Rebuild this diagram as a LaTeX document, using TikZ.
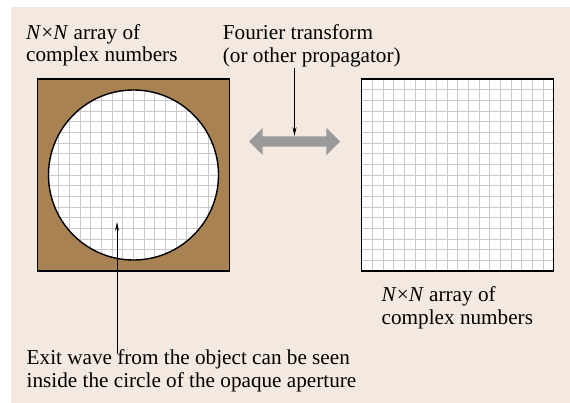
\documentclass[tikz,border=0pt]{standalone}
\usepackage{fontspec}
\setmainfont{Liberation Serif}
\usetikzlibrary{shapes.arrows, arrows.meta, calc}
\definecolor{paper}{HTML}{F3E9E0}
\definecolor{aperture}{HTML}{A98254}
\definecolor{gridgray}{HTML}{C9C9C9}
\definecolor{fatgray}{HTML}{9A9A9A}

\begin{document}
\begin{tikzpicture}[x=1pt, y=-1pt,
		panel/.style={rectangle, minimum size=192pt, inner sep=0pt, outer sep=0pt},
		hole/.style={circle, minimum size=170pt, inner sep=0pt, outer sep=0pt},
		frame/.style={line width=1.4pt},
		gridline/.style={gridgray, line width=0.9pt},
		note/.style={align=left, anchor=base west, inner sep=0pt,
			font=\fontsize{21.2}{22.8}\selectfont},
		pointer/.style={-{Stealth[length=9pt, width=4pt]}, line width=0.8pt},
		fat/.style={double arrow, fill=fatgray, minimum height=91pt,
			inner xsep=0pt, inner ysep=5pt, double arrow head extend=8.5pt}
		]
		\useasboundingbox (0,0) rectangle (570,403);
		\fill[paper] (11,7) rectangle (570,403);
		
		% object plane: opaque aperture with a round hole
		\node[panel, fill=aperture, draw, frame] (obj) at (133.5,175) {};
		\node[hole, fill=white] (pupil) at (obj.center) {};
		\begin{scope}
			\clip (pupil.center) circle[radius=85];
			\foreach \i in {1,...,17} {
				\draw[gridline] ($(obj.north west)!\i/18!(obj.north east)$) -- ($(obj.south west)!\i/18!(obj.south east)$);
				\draw[gridline] ($(obj.north west)!\i/18!(obj.south west)$) -- ($(obj.north east)!\i/18!(obj.south east)$);
			}
		\end{scope}
		\draw[frame] (pupil.center) circle[radius=85];
		
		% far field
		\node[panel, fill=white] (far) at (457.7,175) {};
		\foreach \i in {1,...,17} {
			\draw[gridline] ($(far.north west)!\i/18!(far.north east)$) -- ($(far.south west)!\i/18!(far.south east)$);
			\draw[gridline] ($(far.north west)!\i/18!(far.south west)$) -- ($(far.north east)!\i/18!(far.south east)$);
		}
		\draw[frame] (far.north west) rectangle (far.south east);
		
		\node[fat] (prop) at (294.5,141.5) {};
		
		% base of a two-line note is its last line
		\node[note] (leftnote) at (26,62) {\textit{N}×\textit{N} array of\\complex numbers};
		\node[note] (fourier) at (222.7,62.5) {Fourier transform\\(or other propagator)};
		\node[note] (rightnote) at (381.5,324.7) {\textit{N}×\textit{N} array of\\complex numbers};
		\node[note] (exit) at (26.5,387.5)
		{Exit wave from the object can be seen\\inside the circle of the opaque aperture};
		
		\coordinate (wave) at (117,222);
		\draw[pointer, shorten <=1pt] (fourier.south -| prop.north) -- (prop.north);
		\draw[pointer, shorten <=-4pt] (exit.north -| wave) -- (wave);
	\end{tikzpicture}
\end{document}
